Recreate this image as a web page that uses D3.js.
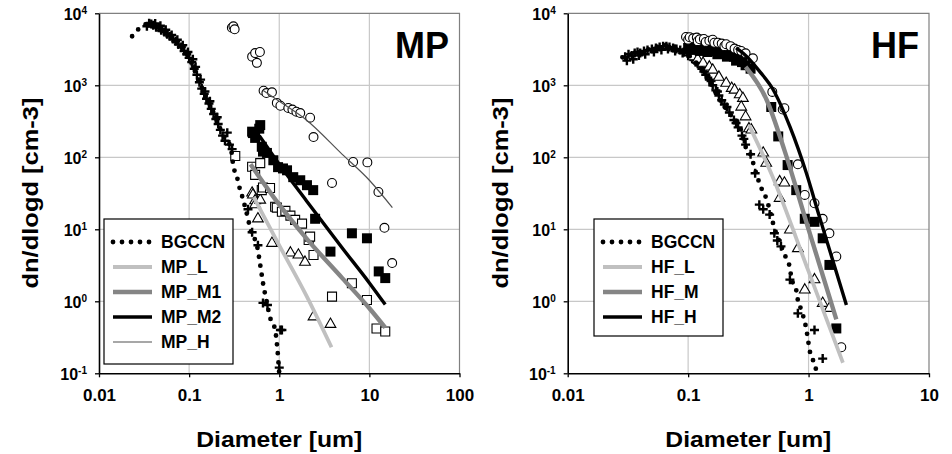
<!DOCTYPE html>
<html>
<head>
<meta charset="utf-8">
<script src="https://cdn.jsdelivr.net/npm/d3@7"></script>
<style>
  body { margin: 0; background: #fff; }
  text { font-family: "Liberation Sans", Arial, sans-serif; font-weight: bold; fill: #000; }
</style>
</head>
<body>
<div id="chart"></div>
<script>
// ---- data: [diameter (um), dn/dlogd (cm-3)] ----

// MP panel
const mpBgLine = [[0.0233,4800],[0.03,6600],[0.037,7200],[0.05,5800],[0.07,4200],[0.1,2400],[0.13,1100],
  [0.18,460],[0.24,200],[0.29,135],[0.31,75],[0.34,53],[0.36,39],[0.39,28],[0.45,14],[0.48,9.8],[0.57,5.7],
  [0.62,3.0],[0.66,1.8],[0.73,0.95],[0.79,0.6],[0.9,0.4],[0.95,0.23],[1.0,0.1]]
const mpCross = [[0.034,6600],[0.036,7300],[0.038,7100],[0.040,6800],[0.042,7200],[0.043,6400],[0.046,6300],
  [0.048,6700],[0.049,5800],[0.053,5500],[0.055,5900],[0.057,5100],[0.061,4800],[0.064,5000],[0.066,4400],
  [0.071,4100],[0.074,4300],[0.076,3700],[0.082,3400],[0.085,3600],[0.088,3000],[0.094,2700],[0.097,2900],
  [0.1,2400],[0.107,2100],[0.11,2300],[0.114,1700],[0.118,1800],[0.122,1400],[0.13,1100],[0.134,1200],
  [0.138,900],[0.147,760],[0.15,820],[0.156,650],[0.166,560],[0.17,600],[0.176,470],[0.187,400],
  [0.198,340],[0.205,360],[0.21,290],[0.222,240],[0.235,200],[0.25,170],[0.265,220],[0.28,150],[0.3,130],
  [0.45,19],[0.5,9.1],[0.58,6.0],[0.66,0.95],[0.74,0.89],[1.03,0.4],[1.07,0.4],[1.0,0.12]]
const mpLPts = [[0.5,32],[0.51,30],[0.54,25],[0.54,22],[0.58,14],[0.615,25.5],[0.83,6.4],[1.33,4.7],
  [1.63,4.4],[1.93,3.5],[2.4,0.61],[3.7,0.48]]
const mpLFit = [[0.52,28],[1,6],[2,1.2],[3.8,0.23]]
const mpM1Pts = [[0.325,104],[0.5,74],[0.54,57],[0.615,83],[0.64,35],[0.66,38],[0.79,37.5],[0.9,20.6],
  [0.94,20],[1.07,17.5],[1.17,18],[1.33,15.5],[1.5,13.5],[1.79,12],[2.12,7.1],[2.2,7.9],[2.4,4.4],
  [3.85,1.16],[6.4,1.78],[9.4,1.04],[12,0.42],[15,0.38]]
const mpM1Fit = [[0.48,80],[1,22],[2,7.5],[5,2.1],[10,0.8],[15,0.43]]
const mpM2Pts = [[0.5,227],[0.51,217],[0.54,186],[0.6,250],[0.615,280],[0.64,140],[0.66,120],[0.73,115],
  [0.86,91],[0.97,73],[1.1,70],[1.22,66],[1.43,53],[1.71,48],[2.03,41],[2.38,35],[2.5,14],[3.7,4.9],[6.4,8.8],
  [9.4,7.5],[12.7,2.6],[15,2.1]]
const mpM2Fit = [[0.6,200],[1,80],[2,25],[5,5.5],[10,1.8],[15,0.9]]
const mpHPts = [[0.298,6300],[0.31,6600],[0.32,6000],[0.5,2500],[0.54,2800],[0.565,2050],[0.61,2900],
  [0.67,840],[0.72,780],[0.83,800],[0.94,570],[1.03,520],[1.26,484],[1.4,460],[1.55,430],[1.71,412],
  [2.2,355],[2.4,191],[3.85,44],[6.6,86],[9.5,85],[12.6,33],[14.7,10.5],[17.9,3.4]]
const mpHFit = [[0.66,850],[1,600],[2,330],[5,110],[10,48],[18,20]]

// HF panel
const hfBgLine = [[0.0285,2450],[0.04,2900],[0.066,3600],[0.096,2800],[0.142,1330],[0.18,660],[0.22,410],
  [0.27,260],[0.30,140],[0.335,102],[0.356,71],[0.405,37.5],[0.445,27],[0.52,10.5],[0.65,4],[0.7,2.9],
  [0.72,2.1],[0.79,1.43],[0.815,1.04],[0.87,0.76],[0.96,0.4],[0.99,0.29],[1.02,0.21],[1.085,0.155],[1.16,0.11]]
const hfCross = [[0.03,2500],[0.031,2200],[0.032,2700],[0.034,2600],[0.035,2300],[0.036,2800],[0.038,2900],
  [0.039,2600],[0.04,2800],[0.043,3000],[0.044,2700],[0.046,3100],[0.05,3200],[0.052,2900],[0.054,3300],
  [0.058,3400],[0.06,3100],[0.062,3500],[0.066,3500],[0.068,3200],[0.07,3400],[0.075,3300],[0.078,3000],
  [0.08,3200],[0.086,3100],[0.09,2800],[0.092,2900],[0.1,2600],[0.105,2500],[0.11,2300],[0.115,2100],
  [0.12,2000],[0.125,1900],[0.13,1700],[0.135,1550],[0.14,1400],[0.15,1200],[0.155,1150],[0.16,1000],
  [0.17,850],[0.175,820],[0.18,720],[0.19,620],[0.2,540],[0.21,500],[0.22,420],[0.24,330],[0.25,300],
  [0.26,260],[0.28,200],[0.29,180],[0.3,150],[0.33,110],[0.36,60],[0.39,22],[0.42,19],[0.475,16],
  [0.52,8.8],[0.55,7],[0.59,5.8],[0.7,2.0],[0.815,0.68],[1.12,0.4],[1.31,0.16]]
const hfLPts = [[0.11,2500],[0.12,2300],[0.133,2030],[0.15,1800],[0.16,1630],[0.18,1300],[0.207,1070],
  [0.23,910],[0.243,860],[0.268,740],[0.285,660],[0.276,500],[0.30,366],[0.32,250],[0.335,240],[0.42,115],
  [0.445,83],[0.575,46],[0.575,27],[0.63,44],[0.7,9.8],[0.815,5.4],[0.93,1.44],[1.12,2.0],[1.31,0.94],[1.49,0.8]]
const hfLFit = [[0.32,280],[0.5,55],[1,2.6],[1.93,0.14]]
const hfMPts = [[0.1,3300],[0.105,3100],[0.11,3400],[0.12,3300],[0.125,3000],[0.13,3200],[0.14,3300],
  [0.145,2900],[0.15,3100],[0.16,3000],[0.17,3000],[0.175,2700],[0.18,2900],[0.2,2800],[0.21,2500],
  [0.22,2700],[0.24,2500],[0.25,2200],[0.26,2300],[0.28,2100],[0.3,1900],[0.33,1700],[0.49,500],
  [0.56,195],[0.67,78],[0.79,35],[0.93,14],[1.12,12.7],[1.31,7.5],[1.49,3.2],[1.7,0.42]]
const hfMFit = [[0.3,1800],[0.45,620],[0.63,126],[1,10],[1.7,0.56]]
const hfHPts = [[0.096,4700],[0.1,4300],[0.103,4650],[0.11,4500],[0.118,4600],[0.12,4100],[0.125,4350],
  [0.135,4400],[0.14,4000],[0.15,4170],[0.16,4300],[0.165,3900],[0.177,3900],[0.19,3800],[0.2,3500],
  [0.207,3720],[0.225,3500],[0.243,3240],[0.26,3100],[0.276,3000],[0.30,2780],[0.345,2370],[0.5,810],
  [0.61,460],[0.63,480],[0.815,80],[0.93,30],[1.12,23],[1.31,14],[1.49,8.8],[1.7,4.2],[1.87,0.23]]
const hfHFit = [[0.25,3300],[0.3,2600],[0.4,1500],[0.5,910],[0.7,266],[0.96,60],[1.23,15],[2.06,0.89]]

// ticks / labels
const yTicks = [0.1, 1, 10, 100, 1000, 10000]
const yExp = ["-1", "0", "1", "2", "3", "4"]
const mpXTicks = [0.01, 0.1, 1, 10, 100]
const mpXLabels = ["0.01", "0.1", "1", "10", "100"]
const hfXTicks = [0.01, 0.1, 1, 10]
const hfXLabels = ["0.01", "0.1", "1", "10"]
const mpLegend = ["BGCCN", "MP_L", "MP_M1", "MP_M2", "MP_H"]
const hfLegend = ["BGCCN", "HF_L", "HF_M", "HF_H"]

// ---- styles ----
const dotted = { stroke: "#000", width: 4.8, dash: "0 9", cap: "round" }
const lightLine = { stroke: "#c0c0c0", width: 3.8 }
const midLine = { stroke: "#858585", width: 4.4 }
const blackLine = { stroke: "#000", width: 3.4 }
const thinLine = { stroke: "#505050", width: 1.2 }

const svg = d3.select("#chart").append("svg")
  .attr("width", 952).attr("height", 454)

function drawMarkers(g, x, y, data, kind) {
  const sel = g.append("g").selectAll("path").data(data).join("path")
    .attr("transform", d => `translate(${x(d[0])},${y(d[1])})`)
  if (kind === "cross") {
    sel.attr("d", "M-4.5,0H4.5M0,-4.5V4.5").attr("stroke", "#000").attr("stroke-width", 2.4).attr("fill", "none")
  } else if (kind === "circle") {
    sel.attr("d", d3.symbol(d3.symbolCircle, 62)()).attr("fill", "#fff").attr("stroke", "#000").attr("stroke-width", 1.1)
  } else if (kind === "square") {
    sel.attr("d", d3.symbol(d3.symbolSquare, 81)()).attr("fill", "#fff").attr("stroke", "#000").attr("stroke-width", 1.1)
  } else if (kind === "fsquare") {
    sel.attr("d", d3.symbol(d3.symbolSquare, 100)()).attr("fill", "#000")
  } else if (kind === "tri") {
    sel.attr("d", d3.symbol(d3.symbolTriangle, 50)()).attr("fill", "#fff").attr("stroke", "#000").attr("stroke-width", 1.1)
  }
}

function drawLine(g, x, y, data, st) {
  const line = d3.line().x(d => x(d[0])).y(d => y(d[1])).curve(d3.curveMonotoneX)
  g.append("path").datum(data)
    .attr("fill", "none")
    .attr("stroke", st.stroke)
    .attr("stroke-width", st.width)
    .attr("stroke-dasharray", st.dash || null)
    .attr("stroke-linecap", st.cap || "butt")
    .attr("d", line)
}

function Panel(cfg) {
  const x = d3.scaleLog().domain([cfg.xTicks[0], cfg.xTicks[cfg.xTicks.length - 1]]).range(cfg.xRange)
  const y = d3.scaleLog().domain([0.1, 10000]).range([373.3, 13.3])
  const [x0, x1] = cfg.xRange
  const g = svg.append("g")

  /* GRID */
  g.append("g").selectAll("line").data(cfg.xTicks.slice(1, -1)).join("line")
    .attr("x1", d => x(d)).attr("x2", d => x(d)).attr("y1", y(0.1)).attr("y2", y(10000))
    .attr("stroke", "#c8c8c8").attr("stroke-width", 1.2)
  g.append("g").selectAll("line").data(yTicks.slice(1, -1)).join("line")
    .attr("x1", x0).attr("x2", x1).attr("y1", d => y(d)).attr("y2", d => y(d))
    .attr("stroke", "#c8c8c8").attr("stroke-width", 1.2)

  /* DATA */
  cfg.markers.forEach(m => drawMarkers(g, x, y, m.data, m.kind))
  cfg.fits.forEach(f => drawLine(g, x, y, f.data, f.style))
  drawLine(g, x, y, cfg.bg, dotted)

  /* FRAME + AXES */
  g.append("path")
    .attr("d", `M${x0},${y(10000)}H${x1}V${y(0.1)}`)
    .attr("fill", "none").attr("stroke", "#808080").attr("stroke-width", 1.2)

  const yAxis = g.append("g")
    .attr("transform", `translate(${x0},0)`)
    .call(d3.axisLeft(y).tickValues(yTicks).tickSize(4).tickSizeOuter(0).tickPadding(8).tickFormat(""))
  yAxis.select(".domain").attr("stroke", "#000").attr("stroke-width", 1.6)
  yAxis.selectAll(".tick line").attr("stroke", "#000").attr("stroke-width", 1.3)
  yAxis.selectAll(".tick text").each(function(d, i) {
    const t = d3.select(this).attr("dy", "0.36em").style("font-size", "16px")
    t.append("tspan").text("10")
    t.append("tspan").text(yExp[i]).attr("dy", "-0.55em").style("font-size", "10px")
  })

  const xAxis = g.append("g")
    .attr("transform", `translate(0,${y(0.1)})`)
    .call(d3.axisBottom(x).tickValues(cfg.xTicks).tickSize(4).tickSizeOuter(0).tickPadding(12)
      .tickFormat((d, i) => cfg.xLabels[i]))
  xAxis.select(".domain").attr("stroke", "#000").attr("stroke-width", 1.6)
  xAxis.selectAll(".tick line").attr("stroke", "#000").attr("stroke-width", 1.3)
  xAxis.selectAll(".tick text").style("font-size", "17px")

  /* TITLES */
  svg.append("text")
    .attr("x", (x0 + x1) / 2).attr("y", 447)
    .attr("text-anchor", "middle")
    .attr("textLength", 166).attr("lengthAdjust", "spacingAndGlyphs")
    .style("font-size", "22px")
    .text("Diameter [um]")
  svg.append("text")
    .attr("transform", `translate(${cfg.yTitleX},193) rotate(-90)`)
    .attr("text-anchor", "middle")
    .attr("textLength", 191).attr("lengthAdjust", "spacingAndGlyphs")
    .style("font-size", "22px")
    .text("dn/dlogd [cm-3]")
  svg.append("text")
    .attr("x", cfg.tag.x).attr("y", 58)
    .attr("text-anchor", "end")
    .style("font-size", "36px")
    .text(cfg.tag.text)

  /* LEGEND */
  const lg = cfg.legend
  const leg = svg.append("g")
  leg.append("rect")
    .attr("x", lg.x).attr("y", lg.y).attr("width", lg.w).attr("height", lg.h)
    .attr("fill", "#fff").attr("stroke", "#000").attr("stroke-width", 1.2)
  lg.names.forEach((name, i) => {
    const cy = lg.y + 23 + i * 25
    const st = lg.styles[i]
    leg.append("line")
      .attr("x1", lg.x + 9).attr("x2", lg.x + 48).attr("y1", cy).attr("y2", cy)
      .attr("stroke", st.stroke).attr("stroke-width", st.width)
      .attr("stroke-dasharray", st.dash || null).attr("stroke-linecap", st.cap || "butt")
    leg.append("text")
      .attr("x", lg.x + 57).attr("y", cy).attr("dy", "0.36em")
      .style("font-size", "17.5px")
      .text(name)
  })
}

Panel({
  xTicks: mpXTicks, xLabels: mpXLabels, xRange: [99, 459.5],
  yTitleX: 38,
  tag: { text: "MP", x: 449 },
  bg: mpBgLine,
  markers: [
    { data: mpCross, kind: "cross" },
    { data: mpLPts, kind: "tri" },
    { data: mpM1Pts, kind: "square" },
    { data: mpM2Pts, kind: "fsquare" },
    { data: mpHPts, kind: "circle" }
  ],
  fits: [
    { data: mpLFit, style: lightLine },
    { data: mpM1Fit, style: midLine },
    { data: mpM2Fit, style: blackLine },
    { data: mpHFit, style: thinLine }
  ],
  legend: { x: 104, y: 219, w: 129, h: 145, names: mpLegend,
    styles: [dotted, lightLine, midLine, blackLine, thinLine] }
})

Panel({
  xTicks: hfXTicks, xLabels: hfXLabels, xRange: [567.7, 929],
  yTitleX: 508,
  tag: { text: "HF", x: 919 },
  bg: hfBgLine,
  markers: [
    { data: hfCross, kind: "cross" },
    { data: hfLPts, kind: "tri" },
    { data: hfMPts, kind: "fsquare" },
    { data: hfHPts, kind: "circle" }
  ],
  fits: [
    { data: hfLFit, style: lightLine },
    { data: hfMFit, style: midLine },
    { data: hfHFit, style: blackLine }
  ],
  legend: { x: 594, y: 219, w: 129, h: 117, names: hfLegend,
    styles: [dotted, lightLine, midLine, blackLine] }
})
</script>
</body>
</html>
